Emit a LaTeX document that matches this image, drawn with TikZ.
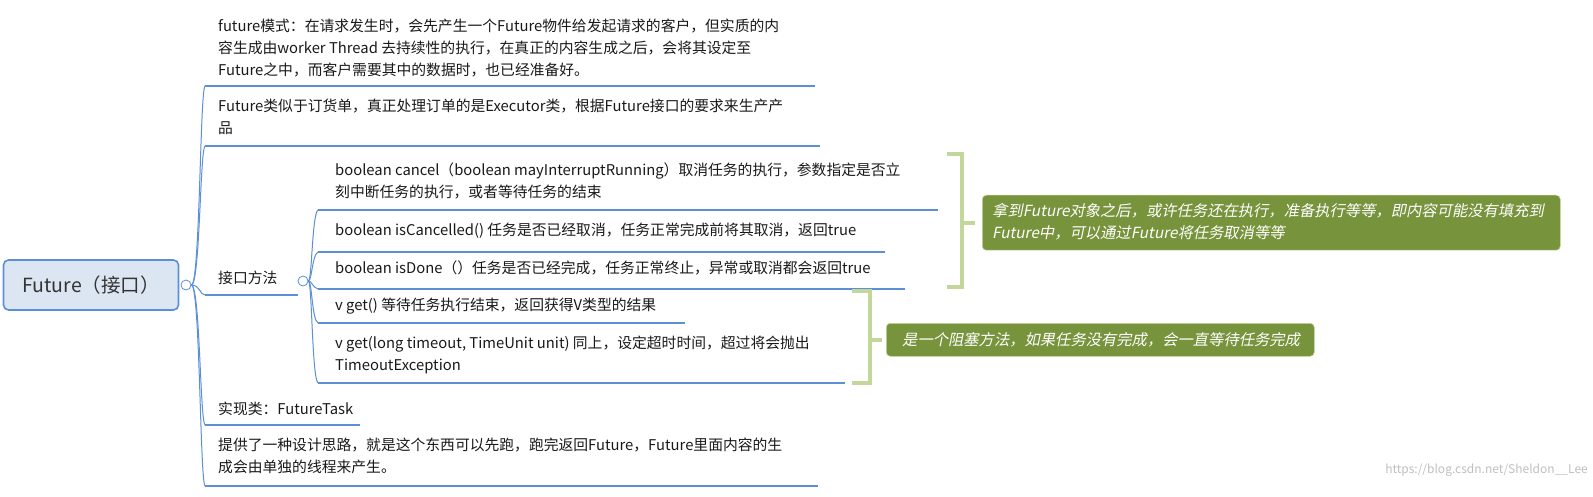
\documentclass[tikz,border=0pt]{standalone}
\usepackage{fontspec}
\setmainfont{Noto Sans CJK SC}
\newfontfamily\cjkit[FakeSlant=0.2]{Noto Sans CJK SC}
\definecolor{lineblue}{HTML}{5B8FD6}
\definecolor{rootfill}{HTML}{DCE6F2}
\definecolor{brk}{HTML}{C4D79B}
\definecolor{olive}{HTML}{77933C}
\begin{document}
\begin{tikzpicture}[x=1pt,y=-1pt,
  txt/.style={anchor=north west,inner sep=0pt,font=\fontsize{14.8}{22}\selectfont,align=left,text=black!90},
  uline/.style={lineblue,line width=2.8pt},
  conn/.style={lineblue,line width=1pt},
  togg/.style={circle,draw=lineblue,fill=white,minimum size=10pt,inner sep=0pt,line width=0.8pt},
  brkline/.style={brk,line width=4pt},
  callout/.style={rounded corners=4pt,fill=olive,draw=brk,line width=0.5pt,inner sep=0pt,anchor=north west},
  ctext/.style={text=white,font=\cjkit\fontsize{15.3}{22}\selectfont,align=left,inner sep=0pt,anchor=west}]
\useasboundingbox (0,0) rectangle (1593,497);
% root
\node[draw=lineblue,fill=rootfill,rounded corners=5pt,line width=1.6pt,minimum width=175pt,minimum height=50pt,font=\fontsize{19.5}{22}\selectfont,text=black!80] (root) at (91,285) {Future（接口）};
\node[togg] (rt) at (186,285) {};
% level 1
\node[txt] (t1) at (218,19) {future模式：在请求发生时，会先产生一个Future物件给发起请求的客户，但实质的内\\容生成由worker Thread 去持续性的执行，在真正的内容生成之后，会将其设定至\\Future之中，而客户需要其中的数据时，也已经准备好。};
\node[txt] (t2) at (218,99) {Future类似于订货单，真正处理订单的是Executor类，根据Future接口的要求来生产产\\品};
\node[txt] (t3) at (218,271) {接口方法};
\node[txt] (t4) at (218,402) {实现类：FutureTask};
\node[txt] (t5) at (218,438) {提供了一种设计思路，就是这个东西可以先跑，跑完返回Future，Future里面内容的生\\成会由单独的线程来产生。};
\coordinate (u1) at (205,86); \coordinate (u1e) at (815,86);
\coordinate (u2) at (205,146); \coordinate (u2e) at (820,146);
\coordinate (u3) at (205,295); \coordinate (u3e) at (298,295);
\coordinate (u4) at (205,425); \coordinate (u4e) at (360,425);
\coordinate (u5) at (205,486); \coordinate (u5e) at (818,486);
\foreach \a/\b in {u1/u1e,u2/u2e,u3/u3e,u4/u4e,u5/u5e} \draw[uline] (\a) -- (\b);
\draw[conn] (rt.east) .. controls (200,285) and (200,90) .. (u1);
\draw[conn] (rt.east) .. controls (200,285) and (200,150) .. (u2);
\draw[conn] (rt.east) .. controls (200,285) and (200,295) .. (u3);
\draw[conn] (rt.east) .. controls (200,285) and (200,420) .. (u4);
\draw[conn] (rt.east) .. controls (200,285) and (200,480) .. (u5);
\node[togg] (mt) at (303,281) {};
% level 2
\node[txt] (a) at (335,163) {boolean cancel（boolean mayInterruptRunning）取消任务的执行，参数指定是否立\\刻中断任务的执行，或者等待任务的结束};
\node[txt] (b) at (335,223) {boolean isCancelled() 任务是否已经取消，任务正常完成前将其取消，返回true};
\node[txt] (c) at (335,261) {boolean isDone（）任务是否已经完成，任务正常终止，异常或取消都会返回true};
\node[txt] (d) at (335,298) {v get() 等待任务执行结束，返回获得V类型的结果};
\node[txt] (e) at (335,336) {v get(long timeout, TimeUnit unit) 同上，设定超时时间，超过将会抛出\\TimeoutException};
\coordinate (va) at (318,210); \coordinate (vae) at (938,210);
\coordinate (vb) at (318,252); \coordinate (vbe) at (885,252);
\coordinate (vc) at (318,289); \coordinate (vce) at (905,289);
\coordinate (vd) at (318,323); \coordinate (vde) at (685,323);
\coordinate (ve) at (318,383); \coordinate (vee) at (845,383);
\foreach \a/\b in {va/vae,vb/vbe,vc/vce,vd/vde,ve/vee} \draw[uline] (\a) -- (\b);
\draw[conn] (mt.east) .. controls (312,281) and (312,214) .. (va);
\draw[conn] (mt.east) .. controls (312,281) and (312,255) .. (vb);
\draw[conn] (mt.east) .. controls (312,281) and (312,287) .. (vc);
\draw[conn] (mt.east) .. controls (312,281) and (312,320) .. (vd);
\draw[conn] (mt.east) .. controls (312,281) and (312,378) .. (ve);
% brackets
\draw[brkline] (947,154) -- (962,154) -- (962,287) -- (947,287);
\draw[brkline] (962,223) -- (975,223);
\node[callout,minimum width=578pt,minimum height=55pt] (c1) at (982,195) {};
\node[ctext] (c1t) at (992,222) {拿到Future对象之后，或许任务还在执行，准备执行等等，即内容可能没有填充到\\Future中，可以通过Future将任务取消等等};
\draw[brkline] (852,291) -- (870,291) -- (870,383) -- (852,383);
\draw[brkline] (870,340) -- (882,340);
\node[callout,minimum width=428pt,minimum height=33pt] (c2) at (886,323) {};
\node[ctext] (c2t) at (902,339.5) {是一个阻塞方法，如果任务没有完成，会一直等待任务完成};
\node[anchor=east,inner sep=0pt,text=black!25,font=\fontsize{12}{13}\selectfont] (wm) at (1588,470) {https://blog.csdn.net/Sheldon\_\_Lee};
\end{tikzpicture}
\end{document}
